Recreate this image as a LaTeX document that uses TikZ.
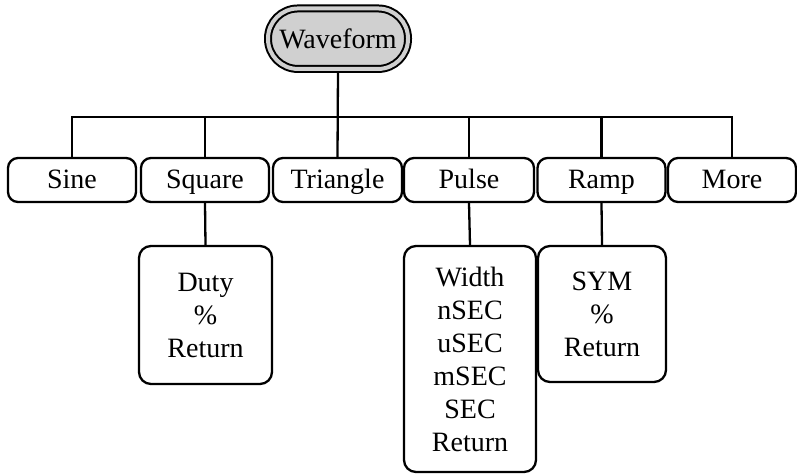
\documentclass[tikz,border=0pt]{standalone}
\usepackage{fontspec}
\setmainfont{Liberation Serif}
\usetikzlibrary{backgrounds}
\definecolor{wfgray}{HTML}{D0D0D0}
\tikzset{
  txt/.style={font=\fontsize{28}{33}\selectfont, align=center, inner sep=0pt},
  rowbox/.style={txt, draw, line width=2.3pt, rounded corners=10pt, minimum width=128pt, minimum height=44pt, text height=22pt, text depth=6pt},
  subbox/.style={txt, draw, line width=2.3pt, rounded corners=12pt},
  conn/.style={line width=2.3pt},
}
\begin{document}
\begin{tikzpicture}[x=1pt,y=-1pt]
\useasboundingbox (0,0) rectangle (797,475);
\node[txt, draw, line width=2pt, double=wfgray, double distance=4pt, fill=wfgray,
      rounded corners=30pt, minimum width=140pt, minimum height=60.5pt,
      text height=24pt, text depth=5.4pt] (wave) at (338,38.7) {Waveform};
\node[rowbox] (sine) at (72,180) {Sine};
\node[rowbox] (square) at (205,180) {Square};
\node[rowbox, minimum width=129pt] (tri) at (337.5,180) {Triangle};
\node[rowbox, minimum width=130pt] (pulse) at (469,180) {Pulse};
\node[rowbox] (ramp) at (601.5,180) {Ramp};
\node[rowbox] (more) at (732,180) {More};
\node[subbox, minimum width=133pt, minimum height=138pt] (duty) at (205.5,315) {Duty\\\%\\Return};
\node[subbox, minimum width=132pt, minimum height=226pt] (width) at (470,359) {Width\\nSEC\\uSEC\\mSEC\\SEC\\Return};
\node[subbox, minimum width=128pt, minimum height=136pt] (sym) at (602,314) {SYM\\\%\\Return};
\coordinate (bar) at (0,117);
\begin{scope}[on background layer]
\draw[conn] (wave.south) -- (tri.north);
\draw[conn] (sine.north) -- (sine.north |- bar) -- (more.north |- bar) -- (more.north);
\draw[conn] (square.north) -- (square.north |- bar);
\draw[conn] (pulse.north) -- (pulse.north |- bar);
\draw[conn] (ramp.north) -- (ramp.north |- bar);
\draw[conn] (square.south) -- (duty.north);
\draw[conn] (pulse.south) -- (width.north);
\draw[conn] (ramp.south) -- (sym.north);
\end{scope}
\end{tikzpicture}
\end{document}
